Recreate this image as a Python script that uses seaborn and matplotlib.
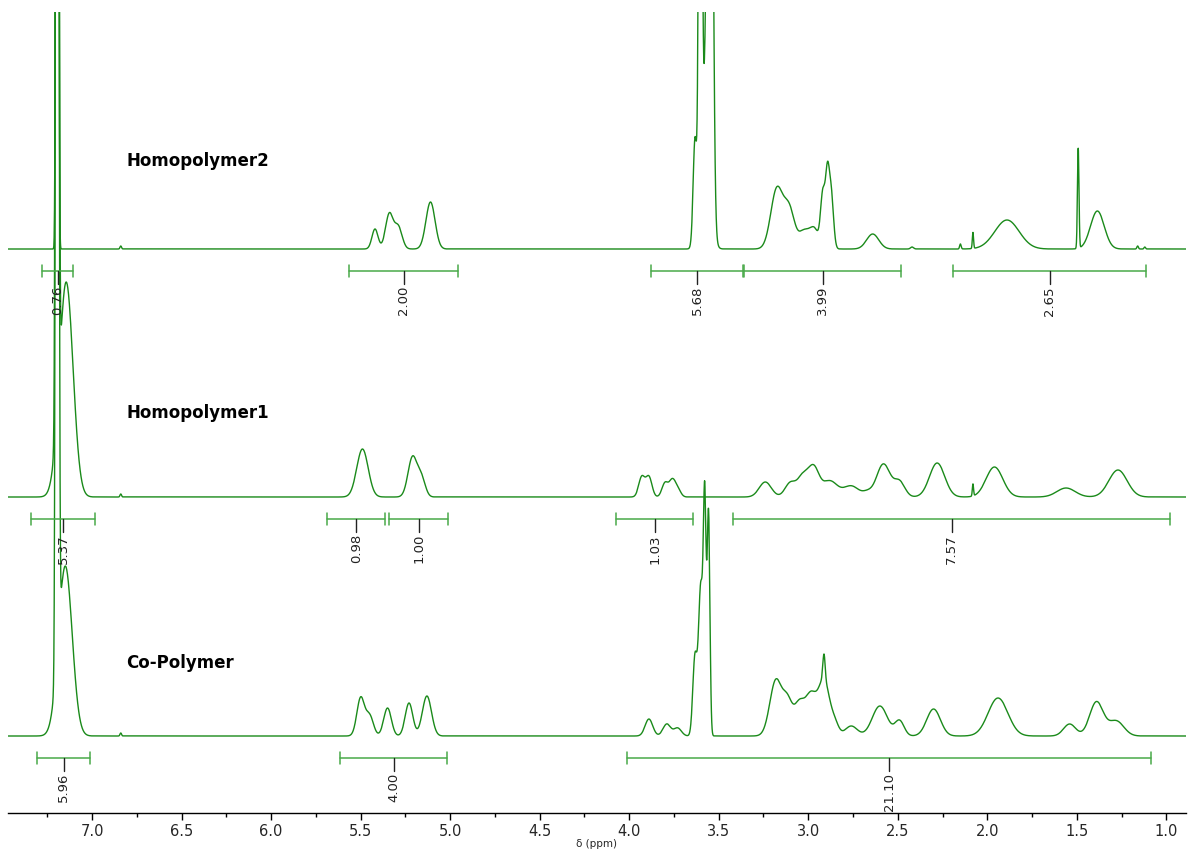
import numpy as np
import pandas as pd
import matplotlib
matplotlib.use("Agg")
import matplotlib.pyplot as plt
import seaborn as sns

# ---------------- data ----------------
# peak tables: centre (ppm), height (intensity units), FWHM (ppm)
h2_centers = [7.195, 6.84, 5.42, 5.34, 5.29, 5.11,
              3.633, 3.575, 3.603, 3.548,
              3.175, 3.105, 3.03, 2.99, 2.96, 2.918, 2.893, 2.872,
              2.64, 2.42, 2.15, 2.08, 1.89, 1.492, 1.385, 1.16, 1.12]
h2_heights = [3000, 3, 20, 35, 22, 47,
              100, 150, 800, 800,
              60, 38, 14, 12, 14, 55, 65, 55,
              15, 2, 5, 16, 29, 100, 38, 3, 2]
h2_widths = [0.012, 0.01, 0.04, 0.05, 0.05, 0.06,
             0.024, 0.06, 0.018, 0.03,
             0.08, 0.07, 0.06, 0.06, 0.05, 0.03, 0.025, 0.03,
             0.08, 0.02, 0.01, 0.008, 0.16, 0.01, 0.09, 0.01, 0.01]

h1_centers = [7.195, 7.145, 6.84, 5.49, 5.21, 5.16, 3.93, 3.89, 3.80, 3.76, 3.73,
              3.24, 3.10, 3.03, 2.97, 2.88, 2.76, 2.67, 2.58, 2.49, 2.28, 2.08,
              1.96, 1.56, 1.27]
h1_heights = [3000, 215, 3, 48, 40, 18, 20, 20, 14, 16, 8,
              15, 14, 20, 28, 16, 11, 4, 33, 15, 34, 12,
              30, 9, 27]
h1_widths = [0.015, 0.09, 0.01, 0.075, 0.06, 0.05, 0.04, 0.04, 0.04, 0.04, 0.04,
             0.08, 0.07, 0.07, 0.07, 0.1, 0.1, 0.06, 0.09, 0.07, 0.1, 0.008,
             0.11, 0.12, 0.12]

co_centers = [7.195, 7.15, 6.84, 5.50, 5.45, 5.35, 5.23, 5.13, 3.89, 3.79, 3.73,
              3.633, 3.600, 3.578, 3.557,
              3.18, 3.115, 3.05, 2.985, 2.912, 2.912, 2.85, 2.76,
              2.60, 2.49, 2.30, 1.94, 1.54, 1.39, 1.28]
co_heights = [3000, 170, 3, 38, 20, 28, 33, 40, 17, 12, 8,
              78, 150, 215, 222,
              56, 30, 32, 38, 25, 55, 10, 10,
              30, 15, 27, 38, 12, 34, 15]
co_widths = [0.015, 0.09, 0.01, 0.05, 0.05, 0.05, 0.05, 0.06, 0.05, 0.05, 0.05,
             0.028, 0.03, 0.018, 0.018,
             0.08, 0.06, 0.07, 0.07, 0.015, 0.075, 0.05, 0.08,
             0.1, 0.06, 0.09, 0.13, 0.08, 0.09, 0.1]

# integral regions (start ppm, end ppm, value)
h2_int_start = [7.279, 5.564, 3.877, 3.358, 2.190]
h2_int_end = [7.106, 4.955, 3.363, 2.480, 1.112]
h2_int_vals = ["0.76", "2.00", "5.68", "3.99", "2.65"]

h1_int_start = [7.341, 5.687, 5.341, 4.073, 3.419]
h1_int_end = [6.983, 5.363, 5.011, 3.642, 0.978]
h1_int_vals = ["5.37", "0.98", "1.00", "1.03", "7.57"]

co_int_start = [7.307, 5.615, 4.011]
co_int_end = [7.011, 5.017, 1.084]
co_int_vals = ["5.96", "4.00", "21.10"]

names = ["Homopolymer2", "Homopolymer1", "Co-Polymer"]
offsets = [564, 316, 77]

major_ticks = [7.0, 6.5, 6.0, 5.5, 5.0, 4.5, 4.0, 3.5, 3.0, 2.5, 2.0, 1.5, 1.0]
minor_ticks = [7.25, 6.75, 6.25, 5.75, 5.25, 4.75, 4.25, 3.75, 3.25, 2.75,
               2.25, 1.75, 1.25]

# ---------------- build spectra ----------------
ppm = np.arange(0.89, 7.47, 0.001)


def spectrum(centers, heights, widths):
    y = np.zeros_like(ppm)
    for c, h, w in zip(centers, heights, widths):
        y += h * np.exp(-4 * np.log(2) * (ppm - c) ** 2 / w ** 2)
    return y


tables = [(h2_centers, h2_heights, h2_widths),
          (h1_centers, h1_heights, h1_widths),
          (co_centers, co_heights, co_widths)]
frames = []
for name, off, (c, h, w) in zip(names, offsets, tables):
    frames.append(pd.DataFrame({"ppm": ppm, "intensity": spectrum(c, h, w) + off,
                                "sample": name}))
df = pd.concat(frames, ignore_index=True)

integrals = [(h2_int_start, h2_int_end, h2_int_vals),
             (h1_int_start, h1_int_end, h1_int_vals),
             (co_int_start, co_int_end, co_int_vals)]

# ---------------- draw ----------------
sns.set_theme(style="white")
plt.rcParams["font.family"] = ["DejaVu Sans"]

W, H = 1192, 849
fig = plt.figure(figsize=(W / 100, H / 100), dpi=100)
ax = fig.add_axes([8 / W, (H - 813) / H, (1186 - 8) / W, (813 - 12) / H])

line_col = "#1a8a1a"
int_col = "#49a949"
sns.lineplot(data=df, x="ppm", y="intensity", units="sample", estimator=None,
             color=line_col, linewidth=1.0, ax=ax, legend=False)

for name, off, (st, en, vals) in zip(names, offsets, integrals):
    yb = off - 22
    for s, e, v in zip(st, en, vals):
        ax.plot([s, e], [yb, yb], color=int_col, lw=1.1)
        ax.plot([s, s], [yb - 6, yb + 6], color=int_col, lw=1.1)
        ax.plot([e, e], [yb - 6, yb + 6], color=int_col, lw=1.1)
        m = (s + e) / 2
        ax.plot([m, m], [yb, yb - 13], color="#222222", lw=1.0)
        ax.text(m, yb - 15, v, rotation=90, ha="center", va="top",
                fontsize=9.5, color="#222222")

title_y = [652, 400, 150]
for name, ty in zip(names, title_y):
    ax.text(6.81, ty, name, fontsize=12, fontweight="bold", ha="left",
            va="center", color="black")

ax.set_xlim(7.47, 0.89)
ax.set_ylim(0, 801)
for sp in ["left", "right", "top"]:
    ax.spines[sp].set_visible(False)
ax.spines["bottom"].set_color("black")
ax.spines["bottom"].set_linewidth(1.0)
ax.set_xticks(major_ticks)
ax.set_xticklabels([f"{t:.1f}" for t in major_ticks], fontsize=10.5)
ax.set_xticks(minor_ticks, minor=True)
ax.tick_params(axis="x", which="major", direction="out", length=5, width=1,
               color="black", pad=3, bottom=True)
ax.tick_params(axis="x", which="minor", direction="out", length=3, width=1,
               color="black", bottom=True)
ax.set_yticks([])
ax.set_xlabel("δ (ppm)", fontsize=7.5, labelpad=0)
ax.set_ylabel("")
ax.grid(False)

fig.savefig("out.png", dpi=100)
